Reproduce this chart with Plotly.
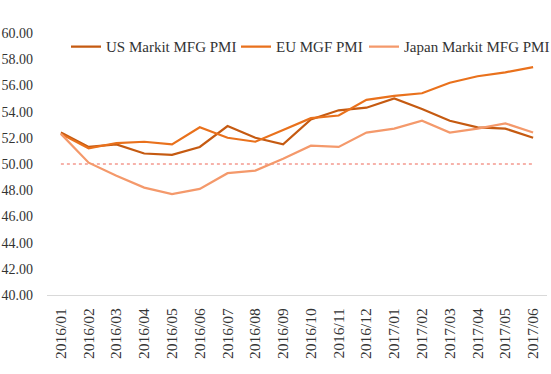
import plotly.graph_objects as go

months = ["2016/01", "2016/02", "2016/03", "2016/04", "2016/05", "2016/06",
          "2016/07", "2016/08", "2016/09", "2016/10", "2016/11", "2016/12",
          "2017/01", "2017/02", "2017/03", "2017/04", "2017/05", "2017/06"]
us_pmi = [52.4, 51.3, 51.5, 50.8, 50.7, 51.3, 52.9, 52.0, 51.5, 53.4, 54.1, 54.3,
          55.0, 54.2, 53.3, 52.8, 52.7, 52.0]
eu_pmi = [52.3, 51.2, 51.6, 51.7, 51.5, 52.8, 52.0, 51.7, 52.6, 53.5, 53.7, 54.9,
          55.2, 55.4, 56.2, 56.7, 57.0, 57.4]
jp_pmi = [52.3, 50.1, 49.1, 48.2, 47.7, 48.1, 49.3, 49.5, 50.4, 51.4, 51.3, 52.4,
          52.7, 53.3, 52.4, 52.7, 53.1, 52.4]
threshold = [50.0] * len(months)
y_ticks = [40, 42, 44, 46, 48, 50, 52, 54, 56, 58, 60]

FONT = "Liberation Serif, Times New Roman, serif"
TXT = "#333333"

fig = go.Figure()
fig.add_trace(go.Scatter(x=months, y=threshold, mode="lines", showlegend=False,
                         line=dict(color="#F4998E", width=1.5, dash="dot"),
                         hoverinfo="skip"))
fig.add_trace(go.Scatter(x=months, y=us_pmi, mode="lines", name="US Markit MFG PMI",
                         legend="legend", line=dict(color="#C55A11", width=2.2)))
fig.add_trace(go.Scatter(x=months, y=eu_pmi, mode="lines", name="EU MGF PMI",
                         legend="legend2", line=dict(color="#E9711C", width=2.2)))
fig.add_trace(go.Scatter(x=months, y=jp_pmi, mode="lines", name="Japan Markit MFG PMI",
                         legend="legend3", line=dict(color="#F4996B", width=2.2)))

leg_common = dict(orientation="h", xanchor="left", y=0.947, yanchor="middle",
                  font=dict(family=FONT, size=15, color=TXT),
                  itemwidth=30, bgcolor="rgba(0,0,0,0)")

fig.update_layout(
    width=551, height=374,
    margin=dict(l=47, r=4, t=33, b=79, autoexpand=False),
    paper_bgcolor="white", plot_bgcolor="white",
    font=dict(family=FONT, color=TXT),
    showlegend=True,
    legend=dict(x=0.038, **leg_common),
    legend2=dict(x=0.378, **leg_common),
    legend3=dict(x=0.634, **leg_common),
    xaxis=dict(type="category", range=[-0.5, len(months) - 0.5], showgrid=False,
               showline=True, linecolor="#D9D9D9",
               linewidth=1, ticks="", tickangle=-90,
               tickfont=dict(family=FONT, size=15.5, color=TXT),
               ticklabelstandoff=6, zeroline=False),
    yaxis=dict(range=[40, 60], tickvals=y_ticks,
               ticktext=[f"{v:.2f}" for v in y_ticks],
               showgrid=False, showline=False, zeroline=False, ticks="",
               tickfont=dict(family=FONT, size=14, color=TXT),
               ticklabelstandoff=13),
)

fig.write_html("out.html", config={"displayModeBar": False},
               post_script="document.body.style.margin='0';document.body.style.overflow='hidden';")
